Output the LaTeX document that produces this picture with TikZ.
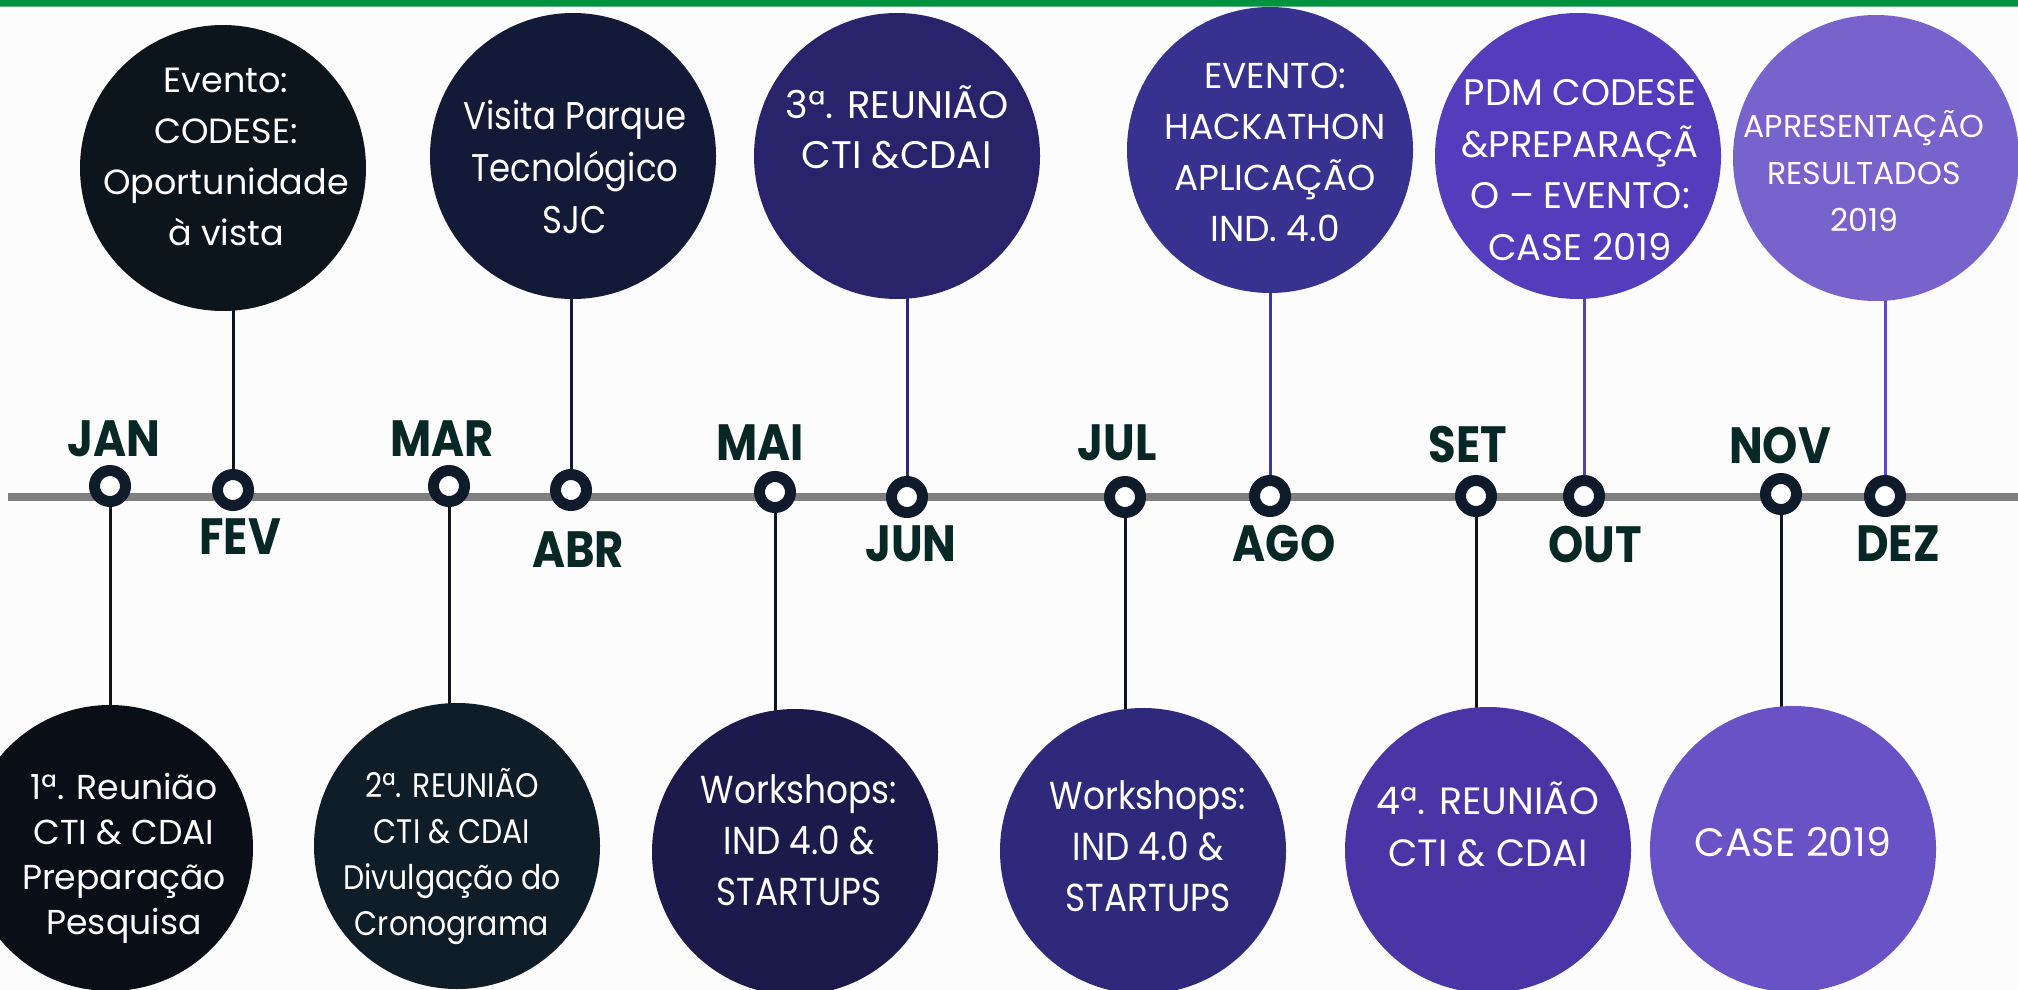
\documentclass[tikz,border=0pt]{standalone}
\usepackage{fontspec}
\setmainfont{Poppins}
\newfontfamily\narrowfont[FakeStretch=0.88]{Poppins}
\definecolor{bgc}{HTML}{FCFCFC}
\definecolor{greenc}{HTML}{00923F}
\definecolor{greenl}{HTML}{5FB384}
\definecolor{linegray}{HTML}{808080}
\definecolor{ring}{HTML}{0F1B2A}
\definecolor{monthc}{HTML}{082825}
\definecolor{cjan}{HTML}{0A0F17}
\definecolor{cfev}{HTML}{0C141C}
\definecolor{cmar}{HTML}{0F1D28}
\definecolor{cabr}{HTML}{131A38}
\definecolor{cmai}{HTML}{1B1A4A}
\definecolor{cjun}{HTML}{28236A}
\definecolor{cjul}{HTML}{2E297A}
\definecolor{cago}{HTML}{37318F}
\definecolor{cset}{HTML}{4935A6}
\definecolor{cout}{HTML}{533DBC}
\definecolor{cnov}{HTML}{6952C6}
\definecolor{cdez}{HTML}{7862CB}
\definecolor{lkdark}{HTML}{101418}
\definecolor{ljun}{HTML}{2A2870}
\definecolor{lago}{HTML}{3B35A6}
\definecolor{lout}{HTML}{5441C0}
\definecolor{ldez}{HTML}{5B47C4}
\pgfdeclarelayer{bg}
\pgfdeclarelayer{conn}
\pgfsetlayers{bg,conn,main}
\begin{document}
\begin{tikzpicture}[x=0.5pt,y=-0.5pt,
  event/.style={circle, minimum size=143pt, inner sep=0pt, draw=none},
  mk/.style={circle, minimum size=15.5pt, inner sep=0pt, line width=5.5pt, draw=ring, fill=white},
  month/.style={font=\narrowfont\fontsize{25.5}{25.5}\selectfont\bfseries, text=monthc, inner sep=0pt},
  etext/.style={text=white, align=center, inner sep=0pt},
  link/.style={line width=1.5pt, draw=lkdark}
]
\useasboundingbox (0,0) rectangle (2018,990);
\begin{pgfonlayer}{bg}
\fill[bgc] (0,0) rectangle (2018,990);
\fill[greenl] (0,0) rectangle (2018,7.5);
\fill[greenc] (0,0) rectangle (2018,6);
\coordinate (tl0) at (8,497);
\coordinate (tl1) at (2018,497);
\draw[line width=4pt, linegray] (tl0) -- (tl1);
\end{pgfonlayer}

% markers
\node[mk] (mjan) at (110,486) {};
\node[mk] (mfev) at (233,490) {};
\node[mk] (mmar) at (449,486) {};
\node[mk] (mabr) at (571,490) {};
\node[mk] (mmai) at (775,492) {};
\node[mk] (mjun) at (907,497) {};
\node[mk] (mjul) at (1125,497) {};
\node[mk] (mago) at (1270,496) {};
\node[mk] (mset) at (1476,496) {};
\node[mk] (mout) at (1584,496) {};
\node[mk] (mnov) at (1781,494) {};
\node[mk] (mdez) at (1885,496) {};

% month labels
\node[month] (ljan) at (114,439) {JAN};
\node[month] (lmar) at (442,439) {MAR};
\node[month] (lmai) at (760,443) {MAI};
\node[month] (ljul) at (1117,443) {JUL};
\node[month] (lset) at (1468,445) {SET};
\node[month] (lnov) at (1780,446) {NOV};
\node[month] (lfev) at (240,537) {FEV};
\node[month] (labr) at (578,550) {ABR};
\node[month] (ljun) at (911,544) {JUN};
\node[month] (lago) at (1284,544) {AGO};
\node[month] (lout) at (1595,545) {OUT};
\node[month] (ldez) at (1898,544) {DEZ};

% event circles
\node[event, fill=cfev] (cfev) at (223,168) {};
\node[event, fill=cabr] (cabr) at (573,156) {};
\node[event, fill=cjun] (cjun) at (897,156) {};
\node[event, fill=cago] (cago) at (1270,150) {};
\node[event, fill=cout] (cout) at (1578,156) {};
\node[event, fill=cdez] (cdez) at (1876,158) {};
\node[event, fill=cjan] (cjan) at (110,848) {};
\node[event, fill=cmar] (cmar) at (457,846) {};
\node[event, fill=cmai] (cmai) at (795,852) {};
\node[event, fill=cjul] (cjul) at (1143,851) {};
\node[event, fill=cset] (cset) at (1488,850) {};
\node[event, fill=cnov] (cnov) at (1793,849) {};

% event texts
\node[etext, font=\fontsize{17.5}{25.5}\selectfont] (tfev) at (226,157) {Evento:\\CODESE:\\Oportunidade\\à vista};
\node[etext, font=\narrowfont\fontsize{19.3}{26}\selectfont] (tabr) at (575,167) {Visita Parque\\Tecnológico\\SJC};
\node[etext, font=\fontsize{19.2}{25}\selectfont] (tjun) at (897,127) {3ª. REUNIÃO\\CTI \&CDAI};
\node[etext, font=\fontsize{18}{25.5}\selectfont] (tago) at (1275,152) {EVENTO:\\HACKATHON\\APLICAÇÃO\\IND. 4.0};
\node[etext, font=\fontsize{18.5}{25.75}\selectfont] (tout) at (1580,170) {PDM CODESE\\\&PREPARAÇÃ\\O – EVENTO:\\CASE 2019};
\node[etext, font=\fontsize{15.8}{23.5}\selectfont] (tdez) at (1864,171) {APRESENTAÇÃO\\RESULTADOS\\2019};
\node[etext, font=\fontsize{17.3}{22.5}\selectfont] (tjan) at (124,858) {1ª. Reunião\\CTI \& CDAI\\Preparação\\Pesquisa};
\node[etext, font=\narrowfont\fontsize{17}{23}\selectfont] (tmar) at (452,857) {2ª. REUNIÃO\\CTI \& CDAI\\Divulgação do\\Cronograma};
\node[etext, font=\narrowfont\fontsize{19.5}{25.5}\selectfont] (tmai) at (799,840) {Workshops:\\IND 4.0 \&\\STARTUPS};
\node[etext, font=\narrowfont\fontsize{19.5}{25.5}\selectfont] (tjul) at (1148,846) {Workshops:\\IND 4.0 \&\\STARTUPS};
\node[etext, font=\fontsize{19}{26}\selectfont] (tset) at (1488,824) {4ª. REUNIÃO\\CTI \& CDAI};
\node[etext, font=\fontsize{19.8}{26}\selectfont] (tnov) at (1793,842) {CASE 2019};

% connectors
\begin{pgfonlayer}{conn}
\draw[link, draw=cfev] (mfev) -- (mfev |- cfev.center);
\draw[link, draw=cabr] (mabr) -- (mabr |- cabr.center);
\draw[link, draw=ljun] (mjun) -- (mjun |- cjun.center);
\draw[link, draw=lago] (mago) -- (mago |- cago.center);
\draw[link, draw=lout] (mout) -- (mout |- cout.center);
\draw[link, draw=ldez] (mdez) -- (mdez |- cdez.center);
\draw[link] (mjan) -- (mjan |- cjan.center);
\draw[link] (mmar) -- (mmar |- cmar.center);
\draw[link] (mmai) -- (mmai |- cmai.center);
\draw[link] (mjul) -- (mjul |- cjul.center);
\draw[link] (mset) -- (mset |- cset.center);
\draw[link] (mnov) -- (mnov |- cnov.center);
\end{pgfonlayer}
\end{tikzpicture}
\end{document}
